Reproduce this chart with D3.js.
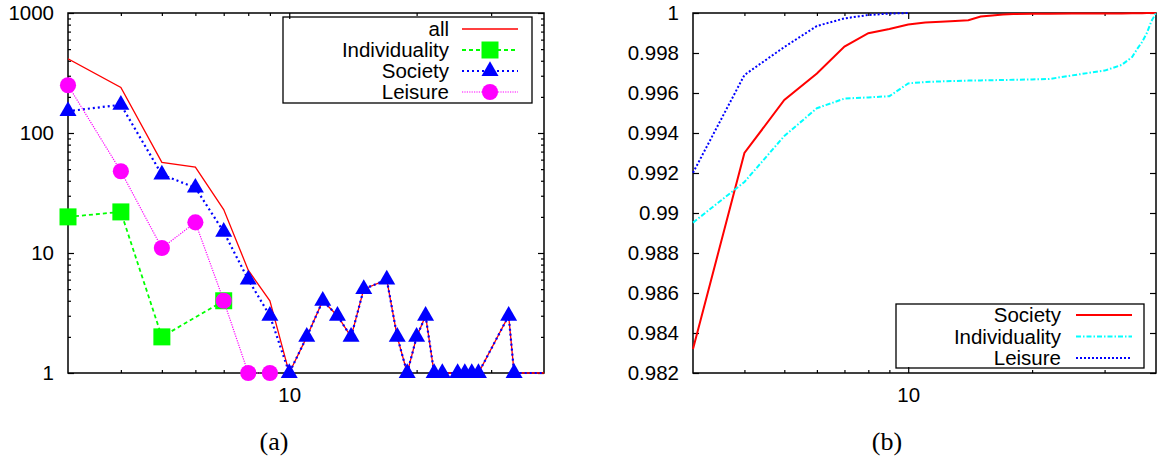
<!DOCTYPE html>
<html>
<head>
<meta charset="utf-8">
<script src="https://cdnjs.cloudflare.com/ajax/libs/d3/7.8.5/d3.min.js"></script>
<style>
  body { margin: 0; background: #fff; }
  svg { display: block; }
  .tick text { font-family: 'Liberation Sans', Arial, sans-serif; font-size: 20.5px; fill: #000; }
  .tick line { stroke: #000; stroke-width: 1.2; }
  .legend text { font-family: 'Liberation Sans', Arial, sans-serif; font-size: 20.5px; fill: #000; }
  .caption { font-family: 'Liberation Serif', 'DejaVu Serif', serif; font-size: 26px; fill: #000; }
</style>
</head>
<body>
<svg id="chart" width="1159" height="461"></svg>
<script>
// (a) number of users per value, log-log
const countX = [3, 4, 5, 6, 7, 8, 9, 10, 11, 12, 13, 14, 15, 17, 18, 19, 20, 21, 22, 23, 25, 26, 27, 28, 33, 34, 45]
const allCounts = [416, 240, 57, 52, 23, 7.2, 4, 1, 2, 4, 3, 2, 5, 6, 2, 1, 2, 3, 1, 1, 1, 1, 1, 1, 3, 1, 1]
const societyCounts = [152, 172, 45, 35, 15, 6, 3, 1, 2, 4, 3, 2, 5, 6, 2, 1, 2, 3, 1, 1, 1, 1, 1, 1, 3, 1, 1]
const individualityX = [3, 4, 5, 7]
const individualityCounts = [20, 22, 2, 4]
const leisureX = [3, 4, 5, 6, 7, 8, 9]
const leisureCounts = [250, 48, 11, 18, 4, 1, 1]
const countYTicks = [1, 10, 100, 1000]

// (b) cumulative distribution
const cdfX = [3, 4, 5, 6, 7, 8, 9, 10, 11, 12, 13, 14, 15, 16, 17, 18, 20, 22, 25, 30, 33, 35, 36, 37, 38, 39, 40]
const societyCdf = [0.9832, 0.993, 0.99565, 0.99698, 0.99832, 0.99899, 0.9992, 0.99942, 0.99952, 0.99956, 0.9996, 0.99964, 0.99982, 0.99988, 0.99992, 0.99995, 0.99996, 0.99996, 0.99997, 0.99998, 0.99998, 0.99999, 0.99999, 0.99999, 1, 1, 1]
const individualityCdf = [0.98952, 0.99155, 0.99385, 0.99524, 0.99572, 0.99578, 0.99584, 0.99648, 0.99655, 0.99658, 0.9966, 0.99662, 0.99663, 0.99664, 0.99665, 0.99666, 0.99668, 0.9967, 0.99688, 0.99712, 0.9974, 0.9978, 0.9982, 0.99855, 0.999, 0.9996, 1]
const leisureCdfX = [3, 4, 5, 6, 7, 8, 9, 10]
const leisureCdf = [0.99201, 0.9969, 0.9983, 0.99935, 0.99973, 0.9999, 0.99997, 1]
const cdfYTicks = [0.982, 0.984, 0.986, 0.988, 0.99, 0.992, 0.994, 0.996, 0.998, 1]

const xMajor = [10]
const xMinor = [4, 5, 6, 7, 8, 9, 20, 30]

const svg = d3.select('#chart')
svg.append('rect').attr('width', 1159).attr('height', 461).attr('fill', '#fff')

const plotTop = 13
const plotBottom = 373

const noLabel = () => ''

const addAxis = (axis, translate) => {
  const g = svg.append('g').attr('transform', translate).call(axis)
  g.select('.domain').remove()
  return g
}

const drawFrame = (x, y, left, right, yMajor, yMinor, yFormat) => {
  addAxis(d3.axisLeft(y).tickValues(yMajor).tickSizeInner(-6).tickSizeOuter(0).tickPadding(14).tickFormat(yFormat), `translate(${left},0)`)
  addAxis(d3.axisRight(y).tickValues(yMajor).tickSizeInner(-6).tickSizeOuter(0).tickFormat(noLabel), `translate(${right},0)`)
  if (yMinor.length) {
    addAxis(d3.axisLeft(y).tickValues(yMinor).tickSizeInner(-3).tickSizeOuter(0).tickFormat(noLabel), `translate(${left},0)`)
    addAxis(d3.axisRight(y).tickValues(yMinor).tickSizeInner(-3).tickSizeOuter(0).tickFormat(noLabel), `translate(${right},0)`)
  }
  addAxis(d3.axisBottom(x).tickValues(xMajor).tickSizeInner(-6).tickSizeOuter(0).tickPadding(14).tickFormat(d3.format('d')), `translate(0,${plotBottom})`)
  addAxis(d3.axisBottom(x).tickValues(xMinor).tickSizeInner(-3).tickSizeOuter(0).tickFormat(noLabel), `translate(0,${plotBottom})`)
  addAxis(d3.axisTop(x).tickValues(xMajor).tickSizeInner(-6).tickSizeOuter(0).tickFormat(noLabel), `translate(0,${plotTop})`)
  addAxis(d3.axisTop(x).tickValues(xMinor).tickSizeInner(-3).tickSizeOuter(0).tickFormat(noLabel), `translate(0,${plotTop})`)

  svg.append('rect')
    .attr('x', left)
    .attr('y', plotTop)
    .attr('width', right - left)
    .attr('height', plotBottom - plotTop)
    .attr('fill', 'none')
    .attr('stroke', '#000')
    .attr('stroke-width', 1.5)
}

// ---------- (a) ----------
const xL = d3.scaleLog().domain([3, 40]).range([68, 544])
const yL = d3.scaleLog().domain([1, 1000]).range([plotBottom, plotTop])
const yMinorL = yL.ticks().filter(d => !countYTicks.includes(d))

drawFrame(xL, yL, 68, 544, countYTicks, yMinorL, d3.format('d'))

svg.append('clipPath').attr('id', 'clipA')
  .append('rect').attr('x', 68).attr('y', 0).attr('width', 544 - 68).attr('height', 461)

const lineL = d3.line().x(d => xL(d[0])).y(d => yL(d[1]))

const triangle = d3.symbol().type(d3.symbolTriangle).size(125)
const square = d3.symbol().type(d3.symbolSquare).size(289)
const circle = d3.symbol().type(d3.symbolCircle).size(205)

const seriesA = [
  { name: 'all', x: countX, y: allCounts, color: '#ff0000', width: 1.3, dash: null, marker: null },
  { name: 'Individuality', x: individualityX, y: individualityCounts, color: '#00ff00', width: 1.8, dash: '4,3', marker: square },
  { name: 'Society', x: countX, y: societyCounts, color: '#0000ff', width: 2.2, dash: '2,3', marker: triangle },
  { name: 'Leisure', x: leisureX, y: leisureCounts, color: '#ff00ff', width: 1.2, dash: '1.2,1.2', marker: circle }
]

seriesA.forEach(s => {
  const pts = d3.zip(s.x, s.y)
  svg.append('path')
    .datum(pts)
    .attr('clip-path', 'url(#clipA)')
    .attr('d', lineL)
    .attr('fill', 'none')
    .attr('stroke', s.color)
    .attr('stroke-width', s.width)
    .attr('stroke-dasharray', s.dash)
  if (s.marker) {
    svg.append('g').selectAll('path')
      .data(pts.filter(d => d[0] <= 40))
      .enter()
      .append('path')
      .attr('transform', d => `translate(${xL(d[0])},${yL(d[1])})`)
      .attr('d', s.marker)
      .attr('fill', s.color)
  }
})

// legend (a)
const legendA = svg.append('g').attr('class', 'legend')
legendA.append('rect')
  .attr('x', 283).attr('y', 17).attr('width', 249).attr('height', 86)
  .attr('fill', 'none').attr('stroke', '#000').attr('stroke-width', 1.3)
seriesA.forEach((s, i) => {
  const ly = 29 + i * 21
  legendA.append('text')
    .attr('x', 449).attr('y', ly).attr('dy', '0.35em')
    .attr('text-anchor', 'end')
    .text(s.name)
  legendA.append('line')
    .attr('x1', 462).attr('x2', 518).attr('y1', ly).attr('y2', ly)
    .attr('stroke', s.color)
    .attr('stroke-width', s.width)
    .attr('stroke-dasharray', s.dash)
  if (s.marker) {
    legendA.append('path')
      .attr('transform', `translate(490,${ly})`)
      .attr('d', s.marker)
      .attr('fill', s.color)
  }
})

svg.append('text').attr('class', 'caption')
  .attr('x', 274).attr('y', 450).attr('text-anchor', 'middle').text('(a)')

// ---------- (b) ----------
const xR = d3.scaleLog().domain([3, 40]).range([693, 1156])
const yR = d3.scaleLinear().domain([0.982, 1]).range([plotBottom, plotTop])

drawFrame(xR, yR, 693, 1156, cdfYTicks, [], d => String(d))

const lineR = d3.line().x(d => xR(d[0])).y(d => yR(d[1]))

const seriesB = [
  { name: 'Society', x: cdfX, y: societyCdf, color: '#ff0000', width: 2, dash: null },
  { name: 'Individuality', x: cdfX, y: individualityCdf, color: '#00ffff', width: 2, dash: '5,2,1.5,2' },
  { name: 'Leisure', x: leisureCdfX, y: leisureCdf, color: '#0000ff', width: 2, dash: '2,2' }
]

seriesB.forEach(s => {
  svg.append('path')
    .datum(d3.zip(s.x, s.y))
    .attr('d', lineR)
    .attr('fill', 'none')
    .attr('stroke', s.color)
    .attr('stroke-width', s.width)
    .attr('stroke-dasharray', s.dash)
})

// legend (b)
const legendB = svg.append('g').attr('class', 'legend')
legendB.append('rect')
  .attr('x', 896).attr('y', 304).attr('width', 248).attr('height', 64)
  .attr('fill', 'none').attr('stroke', '#000').attr('stroke-width', 1.3)
seriesB.forEach((s, i) => {
  const ly = 315 + i * 21.5
  legendB.append('text')
    .attr('x', 1061).attr('y', ly).attr('dy', '0.35em')
    .attr('text-anchor', 'end')
    .text(s.name)
  legendB.append('line')
    .attr('x1', 1076).attr('x2', 1132).attr('y1', ly).attr('y2', ly)
    .attr('stroke', s.color)
    .attr('stroke-width', s.width)
    .attr('stroke-dasharray', s.dash)
})

svg.append('text').attr('class', 'caption')
  .attr('x', 887).attr('y', 450).attr('text-anchor', 'middle').text('(b)')
</script>
</body>
</html>
